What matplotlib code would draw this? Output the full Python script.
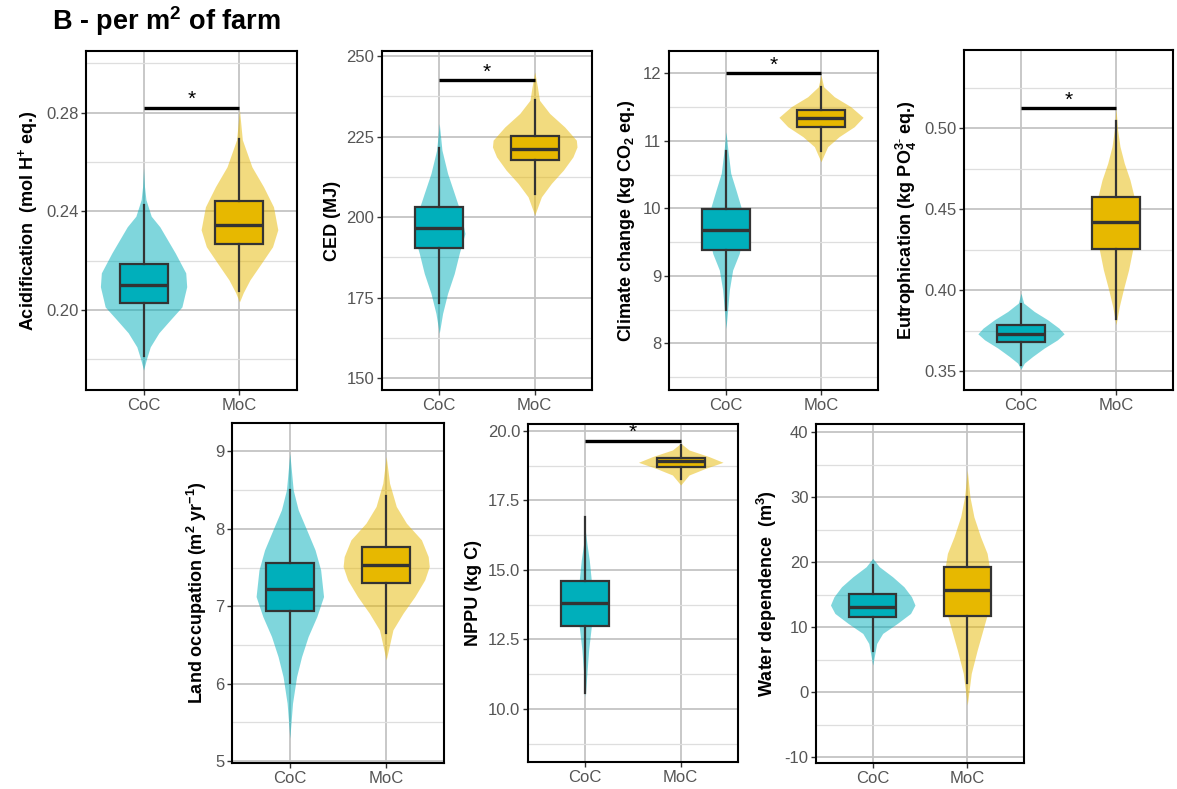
import numpy as np
import matplotlib
matplotlib.use("Agg")
import matplotlib.pyplot as plt

plt.rcParams['font.family'] = ['Liberation Sans', 'DejaVu Sans']
plt.rcParams['mathtext.fontset'] = 'custom'
plt.rcParams['mathtext.rm'] = 'Liberation Sans'
plt.rcParams['mathtext.bf'] = 'Liberation Sans:bold'

groups = ["CoC", "MoC"]
colors = ["#00AFBB", "#E7B800"]

# box stats: [whisker low, q1, median, q3, whisker high]
acid_box = [[0.1813, 0.2028, 0.2101, 0.2187, 0.2424], [0.2077, 0.2268, 0.2345, 0.2443, 0.2694]]
ced_box = [[173.3, 190.4, 196.6, 203.1, 221.4], [207.1, 217.7, 221.2, 225.2, 236.3]]
cc_box = [[8.493, 9.382, 9.679, 9.985, 10.849], [10.853, 11.209, 11.333, 11.456, 11.80]]
eut_box = [[0.3539, 0.3679, 0.373, 0.3782, 0.3913], [0.3823, 0.4255, 0.442, 0.4576, 0.5047]]
land_box = [[6.013, 6.94, 7.224, 7.565, 8.504], [6.651, 7.306, 7.534, 7.763, 8.427]]
nppu_box = [[10.576, 12.977, 13.818, 14.61, 16.891], [18.259, 18.691, 18.932, 19.016, 19.496]]
water_box = [[6.36, 11.49, 13.14, 15.04, 19.56], [1.33, 11.75, 15.71, 19.30, 29.98]]

# violin outlines: values and half widths
acid_coc_y = [0.2577, 0.2500, 0.2447, 0.238, 0.2337, 0.2231, 0.215, 0.2094, 0.2012, 0.196, 0.1907, 0.185, 0.180, 0.1756]
acid_coc_w = [0, 0.01, 0.025, 0.08, 0.17, 0.33, 0.44, 0.45, 0.40, 0.28, 0.16, 0.07, 0.03, 0]
acid_moc_y = [0.2812, 0.269, 0.258, 0.250, 0.2418, 0.2325, 0.2256, 0.219, 0.2122, 0.207, 0.2032]
acid_moc_w = [0, 0.03, 0.13, 0.25, 0.355, 0.40, 0.345, 0.23, 0.11, 0.04, 0]

ced_coc_y = [229.1, 220.8, 213.6, 207.4, 201.1, 194.9, 188.7, 182.5, 176.3, 170.1, 163.9]
ced_coc_w = [0, 0.028, 0.087, 0.157, 0.227, 0.269, 0.209, 0.157, 0.087, 0.035, 0]
ced_moc_y = [245.1, 240.5, 236.3, 232.2, 228.0, 223.9, 221.8, 218.7, 214.6, 210.5, 206.3, 200.6]
ced_moc_w = [0, 0.028, 0.05, 0.157, 0.314, 0.436, 0.443, 0.40, 0.30, 0.175, 0.07, 0]

cc_coc_y = [11.135, 10.864, 10.519, 10.27, 10.024, 9.679, 9.333, 9.086, 8.79, 8.49, 8.22]
cc_coc_w = [0, 0.02, 0.05, 0.105, 0.157, 0.19, 0.14, 0.07, 0.035, 0.017, 0]
cc_moc_y = [11.975, 11.80, 11.653, 11.505, 11.348, 11.209, 11.061, 10.913, 10.69]
cc_moc_w = [0, 0.028, 0.14, 0.314, 0.443, 0.35, 0.19, 0.07, 0]

eut_coc_y = [0.3981, 0.392, 0.3868, 0.3817, 0.3765, 0.373, 0.3693, 0.3642, 0.359, 0.3549, 0.3512]
eut_coc_w = [0, 0.028, 0.14, 0.28, 0.40, 0.454, 0.384, 0.244, 0.122, 0.035, 0]
eut_moc_y = [0.5123, 0.499, 0.4887, 0.4784, 0.4681, 0.4578, 0.4434, 0.4249, 0.4126, 0.4002, 0.3899, 0.3786]
eut_moc_w = [0, 0.017, 0.042, 0.087, 0.147, 0.19, 0.21, 0.175, 0.133, 0.077, 0.035, 0]

land_coc_y = [8.978, 8.504, 8.246, 7.987, 7.728, 7.47, 7.125, 6.866, 6.608, 6.349, 6.09, 5.746, 5.293]
land_coc_w = [0, 0.035, 0.087, 0.175, 0.262, 0.32, 0.35, 0.28, 0.19, 0.122, 0.07, 0.028, 0]
land_moc_y = [8.935, 8.59, 8.289, 8.073, 7.858, 7.642, 7.513, 7.34, 7.125, 6.91, 6.694, 6.306]
land_moc_w = [0, 0.035, 0.105, 0.21, 0.366, 0.436, 0.447, 0.40, 0.297, 0.175, 0.07, 0]

nppu_coc_y = [16.43, 15.954, 15.354, 14.634, 13.794, 12.953, 12.113, 11.273, 10.432]
nppu_coc_w = [0, 0.017, 0.042, 0.063, 0.077, 0.063, 0.035, 0.017, 0]
nppu_moc_y = [19.556, 19.316, 19.076, 18.872, 18.655, 18.415, 18.055]
nppu_moc_w = [0, 0.087, 0.297, 0.443, 0.26, 0.087, 0]

water_coc_y = [20.59, 19.3, 17.76, 16.22, 14.68, 13.40, 12.11, 10.57, 9.03, 7.49, 4.15]
water_coc_w = [0, 0.07, 0.21, 0.33, 0.41, 0.447, 0.40, 0.26, 0.105, 0.042, 0]
water_moc_y = [34.2, 30.09, 27.0, 23.92, 21.36, 17.76, 13.65, 10.06, 6.46, 2.87, -2.0]
water_moc_w = [0, 0.028, 0.07, 0.14, 0.21, 0.25, 0.244, 0.175, 0.105, 0.042, 0]

# significance bar heights (None = no bar)
acid_sig = 0.282
ced_sig = 242.5
cc_sig = 12.0
eut_sig = 0.5123
nppu_sig = 19.65

W, H = 1177, 789
fig = plt.figure(figsize=(W / 100, H / 100), dpi=100)

def pos(l, r, t, b):
    return [l / W, 1 - b / H, (r - l) / W, (b - t) / H]

panels = [
    dict(rect=pos(86, 297, 51, 390), label=r"Acidification  (mol H$\mathbf{^{+}}$ eq.)",
         box=acid_box, vy=[acid_coc_y, acid_moc_y], vw=[acid_coc_w, acid_moc_w], sig=acid_sig,
         ylim=(0.1675, 0.305), major=[0.20, 0.24, 0.28], minor=[0.18, 0.22, 0.26, 0.30], fmt="{:.2f}"),
    dict(rect=pos(382, 592, 51, 390), label="CED (MJ)",
         box=ced_box, vy=[ced_coc_y, ced_moc_y], vw=[ced_coc_w, ced_moc_w], sig=ced_sig,
         ylim=(146.3, 251.6), major=[150, 175, 200, 225, 250], minor=[162.5, 187.5, 212.5, 237.5], fmt="{:.0f}"),
    dict(rect=pos(669, 878, 51, 390), label=r"Climate change (kg CO$\mathbf{_{2}}$ eq.)",
         box=cc_box, vy=[cc_coc_y, cc_moc_y], vw=[cc_coc_w, cc_moc_w], sig=cc_sig,
         ylim=(7.31, 12.33), major=[8, 9, 10, 11, 12], minor=[7.5, 8.5, 9.5, 10.5, 11.5], fmt="{:.0f}"),
    dict(rect=pos(964, 1173, 50, 390), label=r"Eutrophication (kg PO$\mathbf{_{4}^{3\text{-}}}$ eq.)",
         box=eut_box, vy=[eut_coc_y, eut_moc_y], vw=[eut_coc_w, eut_moc_w], sig=eut_sig,
         ylim=(0.3383, 0.5483), major=[0.35, 0.40, 0.45, 0.50], minor=[0.375, 0.425, 0.475, 0.525], fmt="{:.2f}"),
    dict(rect=pos(232, 444, 423, 763), label=r"Land occupation (m$\mathbf{^{2}}$ yr$\mathbf{^{-1}}$)",
         box=land_box, vy=[land_coc_y, land_moc_y], vw=[land_coc_w, land_moc_w], sig=None,
         ylim=(4.974, 9.368), major=[5, 6, 7, 8, 9], minor=[5.5, 6.5, 7.5, 8.5], fmt="{:.0f}"),
    dict(rect=pos(528, 738, 424, 762), label="NPPU (kg C)",
         box=nppu_box, vy=[nppu_coc_y, nppu_moc_y], vw=[nppu_coc_w, nppu_moc_w], sig=nppu_sig,
         ylim=(8.09, 20.25), major=[10.0, 12.5, 15.0, 17.5, 20.0], minor=[8.75, 11.25, 13.75, 16.25, 18.75], fmt="{:.1f}"),
    dict(rect=pos(816, 1024, 424, 763), label=r"Water dependence  (m$\mathbf{^{3}}$)",
         box=water_box, vy=[water_coc_y, water_moc_y], vw=[water_coc_w, water_moc_w], sig=None,
         ylim=(-10.92, 41.28), major=[-10, 0, 10, 20, 30, 40], minor=[-5, 5, 15, 25, 35], fmt="{:.0f}"),
]

for p in panels:
    ax = fig.add_axes(p["rect"])
    ax.set_xlim(0.4, 2.6)
    ax.set_ylim(*p["ylim"])
    ax.set_yticks(p["major"])
    ax.set_yticklabels([p["fmt"].format(v) for v in p["major"]])
    ax.set_yticks(p["minor"], minor=True)
    ax.grid(True, which="major", color="#C4C4C4", linewidth=1.3, zorder=0)
    ax.grid(True, which="minor", axis="y", color="#DEDEDE", linewidth=0.9, zorder=0)
    ax.set_axisbelow(True)
    for s in ax.spines.values():
        s.set_linewidth(1.5)
        s.set_color("black")
    ax.set_ylabel(p["label"], fontsize=13, fontweight="bold", labelpad=4)

    for i in range(2):
        x = i + 1
        vy = np.array(p["vy"][i])
        vw = np.array(p["vw"][i])
        ax.fill_betweenx(vy, x - vw, x + vw, color=colors[i], alpha=0.5, linewidth=0, zorder=2)

    stats = []
    for b in p["box"]:
        stats.append(dict(whislo=b[0], q1=b[1], med=b[2], q3=b[3], whishi=b[4], fliers=[]))
    bp = ax.bxp(stats, positions=[1, 2], widths=0.5, patch_artist=True, showcaps=False,
                boxprops=dict(edgecolor="#333333", linewidth=1.6),
                medianprops=dict(color="#333333", linewidth=2.4),
                whiskerprops=dict(color="#333333", linewidth=1.6), zorder=3)
    for patch, c in zip(bp["boxes"], colors):
        patch.set_facecolor(c)
    ax.set_xticks([1, 2])
    ax.set_xticklabels(groups)
    ax.set_xlim(0.4, 2.6)
    ax.tick_params(axis="both", which="major", length=3.5, width=1, color="#333333",
                   labelsize=12, labelcolor="#555555", pad=2)
    ax.tick_params(axis="y", which="minor", length=0)

    if p["sig"] is not None:
        ax.plot([1, 2], [p["sig"], p["sig"]], color="black", linewidth=2.4, solid_capstyle="butt", zorder=4)
        ax.annotate("*", xy=(1.5, p["sig"]), xytext=(0, -1), textcoords="offset points",
                    ha="center", va="bottom", fontsize=15, color="black")

fig.text(52 / W, 1 - 21 / H, r"B - per m$\mathbf{^{2}}$ of farm", fontsize=19.5, fontweight="bold",
         va="center", ha="left")

fig.savefig("out.png", dpi=100)
